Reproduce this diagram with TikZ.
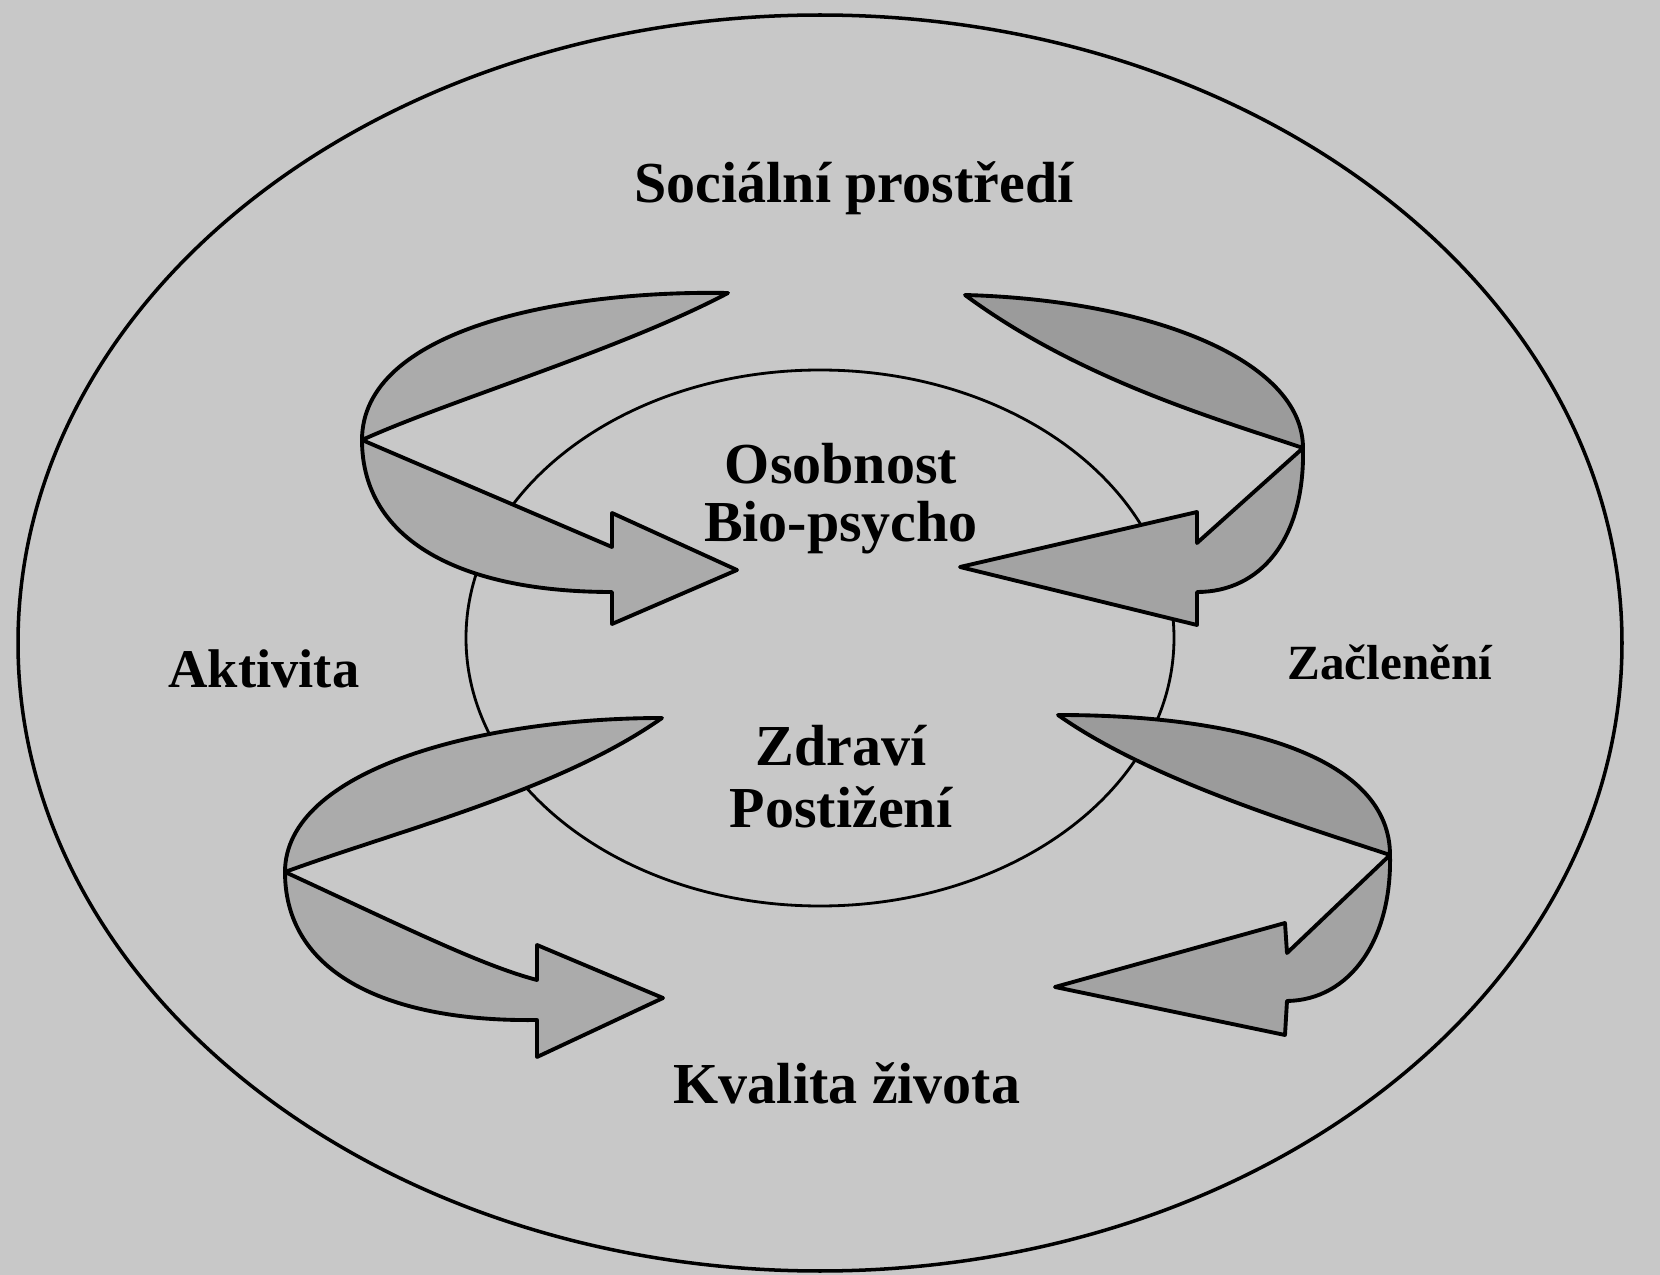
\documentclass[tikz,border=0pt]{standalone}
\usepackage{fontspec}
\setmainfont{Liberation Serif}
\definecolor{paper}{HTML}{C8C8C8}
\definecolor{lightdots}{HTML}{ABABAB}
\definecolor{darkdots}{HTML}{9B9B9B}
\definecolor{bandright}{HTML}{A3A3A3}

\begin{document}
\begin{tikzpicture}[x=0.1mm,y=-0.1mm,line join=round,
    lbl/.style={font=\fontsize{16.5}{18}\selectfont\bfseries,inner sep=0pt,anchor=base},
    leftarr/.style={draw=black,line width=1.1pt,fill=lightdots},
    rightleaf/.style={draw=black,line width=1.1pt,fill=darkdots},
    rightband/.style={draw=black,line width=1.1pt,fill=bandright}]
    \useasboundingbox (0,0) rectangle (1660,1275);
    \fill[paper] (0,0) rectangle (1660,1275);
    \draw[line width=1pt] (820,643) ellipse [x radius=80.2mm,y radius=62.8mm];
    \draw[line width=0.8pt] (820,638) ellipse [x radius=35.4mm,y radius=26.8mm];
    \draw[leftarr] (728,293) .. controls (560,290) and (362,330) .. (362,440) .. controls (450,400) and (620,350) .. (728,293) -- cycle;
    \draw[leftarr] (362,440) .. controls (362,540) and (460,592) .. (612,592) -- (612,624) -- (737,570) -- (612,513) -- (612,547) -- cycle;
    \draw[rightleaf] (965,295) .. controls (1150,300) and (1303,360) .. (1303,448) .. controls (1220,420) and (1080,380) .. (965,295) -- cycle;
    \draw[rightband] (1303,448) .. controls (1305,540) and (1260,592) .. (1197,592) -- (1197,625) -- (960,567) -- (1197,512) -- (1197,543) -- cycle;
    \draw[leftarr] (662,718) .. controls (480,718) and (285,770) .. (285,872) .. controls (400,830) and (560,790) .. (662,718) -- cycle;
    \draw[leftarr] (285,872) .. controls (285,980) and (400,1022) .. (537,1020) -- (537,1057) -- (663,998) -- (537,945) -- (537,980) .. controls (480,965) and (400,925) .. (285,872) -- cycle;
    \draw[rightleaf] (1058,715) .. controls (1250,715) and (1390,760) .. (1390,855) .. controls (1300,825) and (1150,780) .. (1058,715) -- cycle;
    \draw[rightband] (1390,855) .. controls (1392,940) and (1350,1000) .. (1287,1001) -- (1285,1035) -- (1055,987) -- (1285,923) -- (1287,953) -- cycle;
    \node[lbl] (social) at (854,203) {Sociální prostředí};
    \node[lbl] (osob) at (841,483) {Osobnost};
    \node[lbl] (bio) at (841,542) {Bio-psycho};
    \node[lbl,font=\fontsize{15.5}{18}\selectfont\bfseries] (aktiv) at (264,687) {Aktivita};
    \node[lbl,font=\fontsize{14}{16}\selectfont\bfseries] (zacl) at (1390,680) {Začlenění};
    \node[lbl] (zdravi) at (841,765) {Zdraví};
    \node[lbl] (postiz) at (841,827) {Postižení};
    \node[lbl] (kval) at (847,1103) {Kvalita života};
\end{tikzpicture}
\end{document}
